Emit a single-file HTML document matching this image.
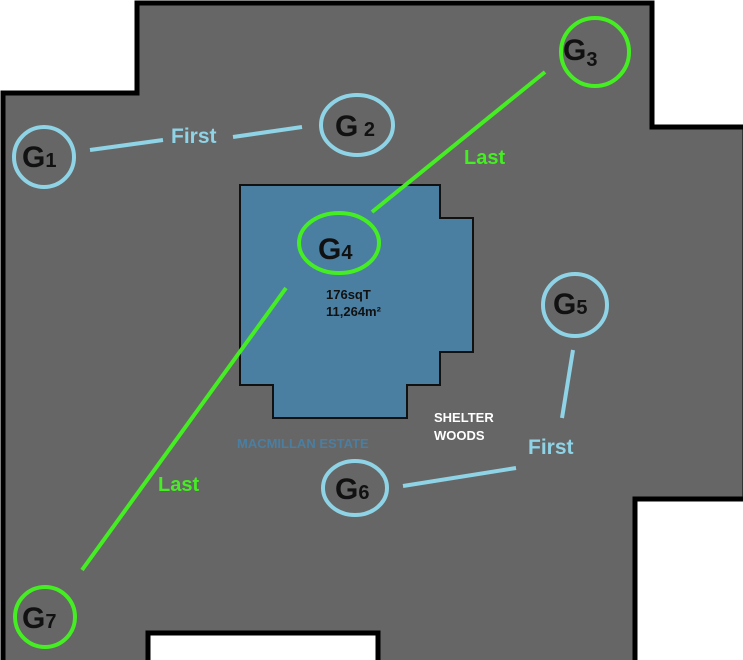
<html><body style="margin:0;width:743px;height:660px;overflow:hidden;background:#fff">
<svg width="743" height="660" xmlns="http://www.w3.org/2000/svg" style="font-family:'Liberation Sans',Arial,sans-serif">
<polygon points="3,93 137,93 137,3 652,3 652,127 745,127 745,499 635,499 635,663 378,663 378,633 148,633 148,663 3,663" fill="#666" stroke="#000" stroke-width="5"/>
<polygon points="240,185 440,185 440,218 473,218 473,352 440,352 440,385 407,385 407,418 273,418 273,385 240,385" fill="#4a7fa2" stroke="#111" stroke-width="2"/>
<g stroke="#8fd3e6" stroke-width="4" fill="none">
<line x1="90" y1="150" x2="163" y2="140"/><line x1="233" y1="137" x2="302" y2="127"/>
<line x1="573" y1="350" x2="562" y2="418"/><line x1="403" y1="486" x2="516" y2="468"/>
<circle cx="44" cy="157" r="30"/><ellipse cx="357" cy="125" rx="36" ry="30"/>
<ellipse cx="575" cy="305" rx="32" ry="31"/><ellipse cx="355" cy="488" rx="32" ry="27"/>
</g>
<g stroke="#44ee22" stroke-width="4" fill="none">
<line x1="545" y1="72" x2="372" y2="212"/><line x1="286" y1="288" x2="82" y2="570"/>
<circle cx="595" cy="52" r="34"/><ellipse cx="339" cy="243" rx="40" ry="30"/><circle cx="45" cy="617" r="30"/>
</g>
<g fill="#8fd3e6" font-weight="bold" font-size="21"><text x="171" y="143">First</text><text x="528" y="454">First</text></g>
<g fill="#44ee22" font-weight="bold" font-size="20"><text x="464" y="164">Last</text><text x="158" y="491">Last</text></g>
<g fill="#111" font-weight="bold" font-size="30">
<text x="22" y="167">G<tspan font-size="20">1</tspan></text>
<text x="335" y="136">G<tspan font-size="20"> 2</tspan></text>
<text x="563" y="60">G<tspan font-size="20" dy="6">3</tspan></text>
<text x="318" y="259">G<tspan font-size="20">4</tspan></text>
<text x="553" y="314">G<tspan font-size="20">5</tspan></text>
<text x="335" y="499">G<tspan font-size="20">6</tspan></text>
<text x="22" y="628">G<tspan font-size="20">7</tspan></text>
</g>
<g fill="#111" font-weight="bold" font-size="13"><text x="326" y="299">176sqT</text><text x="326" y="316">11,264m²</text></g>
<g fill="#fff" font-weight="bold" font-size="13"><text x="434" y="422">SHELTER</text><text x="434" y="440">WOODS</text></g>
<text x="237" y="448" fill="#4a7fa2" font-weight="bold" font-size="13">MACMILLAN ESTATE</text>
</svg>
</body></html>
